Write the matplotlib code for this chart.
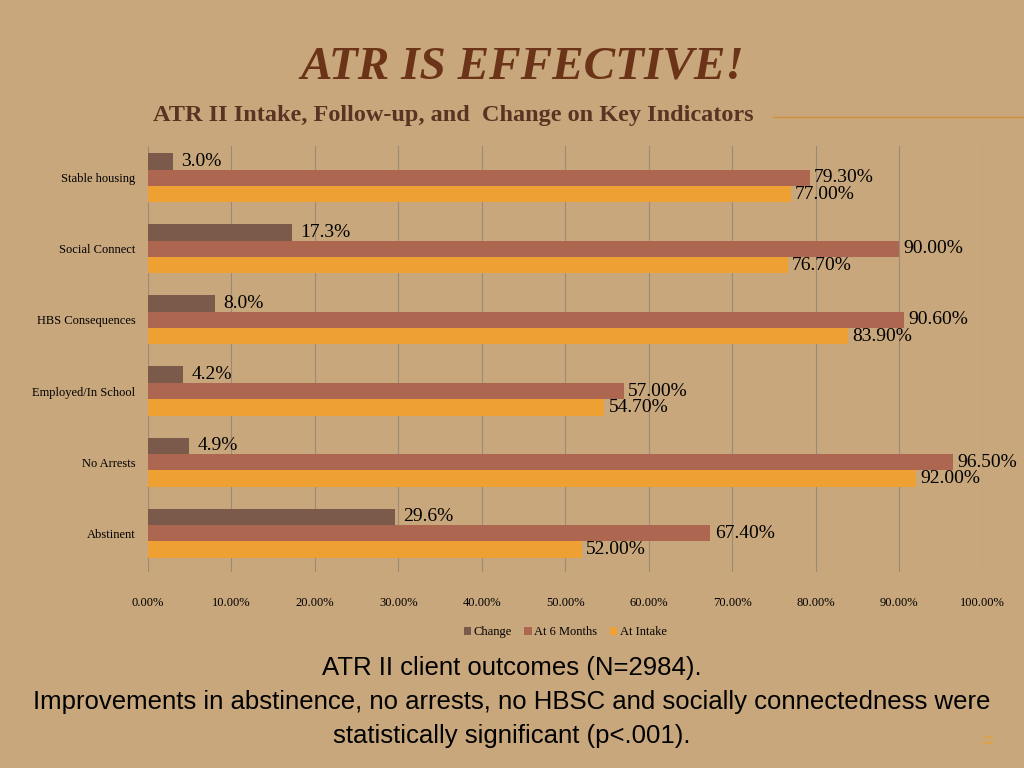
import matplotlib
matplotlib.use("Agg")
import matplotlib.pyplot as plt
import numpy as np

categories = ["Abstinent", "No Arrests", "Employed/In School", "HBS Consequences", "Social Connect", "Stable housing"]
change = [29.6, 4.9, 4.2, 8.0, 17.3, 3.0]
at6 = [67.40, 96.50, 57.00, 90.60, 90.00, 79.30]
intake = [52.00, 92.00, 54.70, 83.90, 76.70, 77.00]
xticks = [0, 10, 20, 30, 40, 50, 60, 70, 80, 90, 100]
caption = ["ATR II client outcomes (N=2984).",
           "Improvements in abstinence, no arrests, no HBSC and socially connectedness were",
           "statistically significant (p<.001)."]

fig = plt.figure(figsize=(10.24, 7.68), dpi=100)
fig.patch.set_facecolor("#c9a77c")
ax = fig.add_axes([0.1445, 0.255, 0.815, 0.555])
ax.set_facecolor("none")
y = np.arange(len(categories))
h = 0.23
c_change, c_6, c_in = "#7b5a4b", "#ad6650", "#eea032"
ax.barh(y + h, change, h, color=c_change, label="Change")
ax.barh(y, at6, h, color=c_6, label="At 6 Months")
ax.barh(y - h, intake, h, color=c_in, label="At Intake")
sf = "Liberation Serif"
for yy, v in zip(y, change):
    ax.text(v + 1, yy + h, f"{v:.1f}%", va="center", fontsize=14, family=sf)
for yy, v in zip(y, at6):
    ax.text(v + 0.5, yy, f"{v:.2f}%", va="center", fontsize=14, family=sf)
for yy, v in zip(y, intake):
    ax.text(v + 0.5, yy - h, f"{v:.2f}%", va="center", fontsize=14, family=sf)
ax.set_xlim(0, 100)
ax.set_ylim(-0.55, 5.45)
ax.set_xticks(xticks)
ax.set_xticklabels([f"{t:.2f}%" for t in xticks], family=sf, fontsize=9)
ax.set_yticks(y)
ax.set_yticklabels(categories, family=sf, fontsize=9)
ax.tick_params(length=0)
ax.tick_params(axis="y", pad=9)
ax.tick_params(axis="x", pad=18)
ax.grid(axis="x", color="#9a8a7a", linewidth=0.8)
ax.axvline(100, color="#9a8a7a", linewidth=0.8)
ax.set_axisbelow(True)
for s in ax.spines.values():
    s.set_visible(False)
ax.legend(loc="upper center", bbox_to_anchor=(0.5, -0.1), ncol=3, frameon=False,
          prop={"family": sf, "size": 9}, handlelength=0.6, handleheight=0.6, columnspacing=1.0, handletextpad=0.2)

fig.text(0.51, 0.912, "ATR IS EFFECTIVE!", ha="center", va="center", family=sf, style="italic",
         weight="bold", fontsize=34, color="#6b3418")
fig.text(0.443, 0.85, "ATR II Intake, Follow-up, and  Change on Key Indicators", ha="center", va="center",
         family=sf, weight="bold", fontsize=17.5, color="#5a3323")
fig.add_artist(plt.Line2D([0.755, 1.0], [0.848, 0.848], color="#d09040", lw=1))
for i, line in enumerate(caption):
    fig.text(0.5, 0.13 - i * 0.044, line, ha="center", va="center",
             family="Liberation Sans", fontsize=18.5)
fig.text(0.965, 0.035, "22", ha="center", va="center", family=sf, fontsize=9, color="#e8a030")
fig.savefig("out.png", dpi=100, facecolor=fig.get_facecolor())
